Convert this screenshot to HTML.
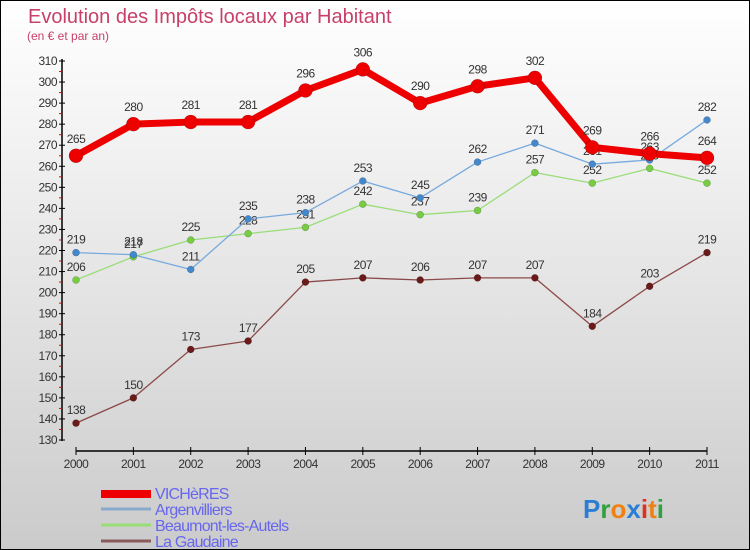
<!DOCTYPE html>
<html><head><meta charset="utf-8"><style>
body{margin:0}
#c{width:748px;height:548px;border:1px solid #000;background:linear-gradient(#fff,#f0f0f0 30%,#cbcbcb);position:relative;font-family:"Liberation Sans","DejaVu Sans",sans-serif;overflow:hidden}
svg{position:absolute;left:0;top:0}
</style></head><body>
<div id="c">
<svg id="s" width="750" height="550">
<text x="27" y="22" font-size="20" fill="#c8406a">Evolution des Impôts locaux par Habitant</text>
<text x="26" y="39" font-size="12" fill="#c8406a">(en € et par an)</text>
</svg>
</div>
<script>
const years=["2000","2001","2002","2003","2004","2005","2006","2007","2008","2009","2010","2011"];
const vichres=[265,280,281,281,296,306,290,298,302,269,266,264];
const argen=[219,218,211,235,238,253,245,262,271,261,263,282];
const beaum=[206,217,225,228,231,242,237,239,257,252,259,252];
const gaud=[138,150,173,177,205,207,206,207,207,184,203,219];
const yTicks=[130,140,150,160,170,180,190,200,210,220,230,240,250,260,270,280,290,300,310];
const legendNames=["VICHèRES","Argenvilliers","Beaumont-les-Autels","La Gaudaine"];
const svg=document.getElementById('s');const NS='http://www.w3.org/2000/svg';
function X(i){return 75+i*(706-75)/(years.length-1);}
function Y(v){return 439-(v-130)*(439-60)/180;}
function el(t,a,p){const e=document.createElementNS(NS,t);for(const k in a)e.setAttribute(k,a[k]);(p||svg).appendChild(e);return e;}
let e;
e=el('line',{x1:61,y1:58,x2:61,y2:440,stroke:'#000','stroke-width':1.5});


e=el('line',{x1:75,y1:450,x2:706,y2:450,stroke:'#000','stroke-width':1.5});


yTicks.forEach(v=>{
 el('line',{x1:58,y1:Y(v),x2:64,y2:Y(v),stroke:'#000'});
 if(v<310)el('line',{x1:58,y1:Y(v+5),x2:61,y2:Y(v+5),stroke:'#e00'});
 e=el('text',{x:56,y:Y(v)+4,'font-size':12,fill:'#333','text-anchor':'end','letter-spacing':'-0.5'});e.textContent=v;
 
 
});
years.forEach((y,i)=>{
 el('line',{x1:X(i),y1:446,x2:X(i),y2:454,stroke:'#000'});
 e=el('text',{x:X(i),y:467,'font-size':12,fill:'#333','text-anchor':'middle','letter-spacing':'-0.5'});e.textContent=y;
 
 
});
function series(d,col,w,r,name,dot){
 e=el('polyline',{points:d.map((v,i)=>X(i)+','+Y(v)).join(' '),fill:'none',stroke:col,'stroke-width':w,'stroke-linejoin':'round'});
 
 
 d.forEach((v,i)=>{
  e=el('circle',{cx:X(i),cy:Y(v),r:r,fill:dot||col,stroke:'rgba(0,0,0,0.3)','stroke-width':0.5});
  
  
  e=el('text',{x:X(i),y:Y(v)-(r>5?13:9),'font-size':12,fill:'#333','text-anchor':'middle','letter-spacing':'-0.5'});e.textContent=v;
  
  
 });
}
series(gaud,'#8b4a4a',1.3,3.5,'la-gaudaine','#6b1a1a');
series(beaum,'#99dd77',1.3,3.5,'beaumont','#77cc44');
series(argen,'#77aadd',1.3,3.5,'argenvilliers','#4488cc');
series(vichres,'#ee0000',7,7,'vichres');
const lc=['#ee0000','#88aacc','#99dd77','#8b5a5a'],lw=[8,3,3,3];
legendNames.forEach((n,i)=>{
 const yy=492+i*16;
 e=el('line',{x1:100,y1:yy+(i==0?1:0),x2:150,y2:yy+(i==0?1:0),stroke:lc[i],'stroke-width':lw[i]});
 
 
 e=el('text',{x:154,y:yy+6,'font-size':16,fill:'#6666ee','letter-spacing':'-0.8'});e.textContent=n;
 
 
});
e=el('text',{x:582,y:517,'font-size':26,'font-weight':'bold'});


"Proxiti".split('').forEach((ch,i)=>{const t=el('tspan',{fill:['#2a7fd4','#30a040','#f08010','#2a7fd4','#e0301e','#f08010','#30a040'][i]},e);t.textContent=ch;});
</script>
</body></html>
